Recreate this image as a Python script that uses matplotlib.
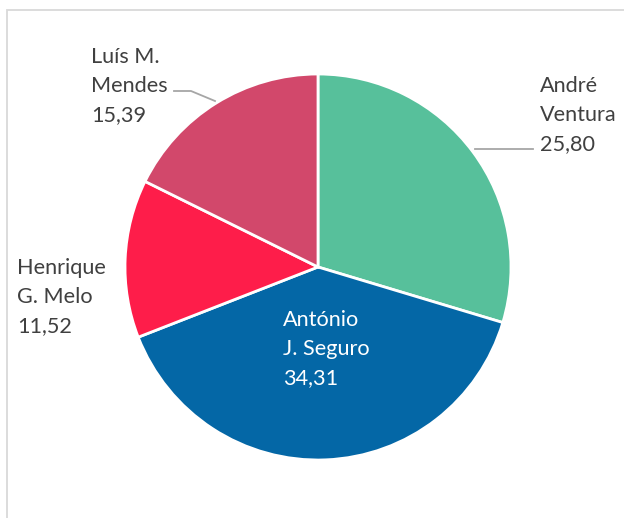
import matplotlib
matplotlib.use("Agg")
import matplotlib.pyplot as plt
from matplotlib.patches import Rectangle

names = ["André\nVentura", "António\nJ. Seguro", "Henrique\nG. Melo", "Luís M.\nMendes"]
values = [25.80, 34.31, 11.52, 15.39]
colors = ["#57C09B", "#0467A6", "#FE1D4A", "#D2486B"]

def fmt(v):
    return f"{v:.2f}".replace(".", ",")

W, H = 624, 518
fig = plt.figure(figsize=(W / 100, H / 100), dpi=100)
ax = fig.add_axes([0, 0, 1, 1])
cx, cy, r = 318, H - 267, 193
ax.pie(values, colors=colors, startangle=90, counterclock=False,
       center=(cx, cy), radius=r,
       wedgeprops=dict(edgecolor="white", linewidth=2.0))
ax.set_xlim(0, W)
ax.set_ylim(0, H)
ax.set_aspect("equal")
ax.axis("off")

# chart border
ax.add_patch(Rectangle((7, -20), W + 20, H - 10 + 20, fill=False,
                       edgecolor="#D9D9D9", linewidth=1.3, clip_on=False))

font = "Lato"
fs = 15.6
txtc = "#404040"
ls = 1.57

def label(x, ytop, i, color=txtc):
    ax.text(x, H - ytop, names[i] + "\n" + fmt(values[i]), ha="left", va="top",
            fontsize=fs, family=font, color=color, linespacing=ls)

label(540, 76, 0)
label(283, 310, 1, color="white")
label(17, 258, 2)
label(91, 47, 3)

lc = "#A6A6A6"
ax.plot([475, 533], [H - 149, H - 149], color=lc, lw=1.3)
ax.plot([174, 191, 215], [H - 91, H - 91, H - 101], color=lc, lw=1.3)

fig.savefig("out.png", dpi=100)
